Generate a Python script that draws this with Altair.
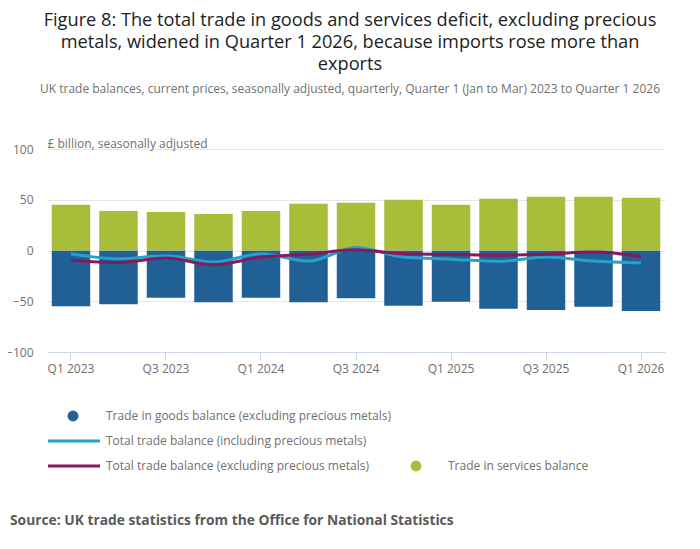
import altair as alt
import pandas as pd

quarters = ["Q1 2023", "Q2 2023", "Q3 2023", "Q4 2023", "Q1 2024", "Q2 2024", "Q3 2024",
            "Q4 2024", "Q1 2025", "Q2 2025", "Q3 2025", "Q4 2025", "Q1 2026"]
goods = [-55.0, -53.0, -46.6, -51.0, -46.6, -51.0, -47.0, -54.5, -50.5, -57.5, -58.5, -55.5, -59.5]
services = [45.0, 39.0, 38.0, 36.0, 39.0, 46.0, 47.0, 50.0, 45.0, 51.0, 53.0, 53.0, 52.0]
total_incl = [-3.3, -8.2, -5.2, -11.4, -3.3, -10.4, 3.0, -6.5, -8.5, -10.8, -6.5, -10.4, -12.4]
total_excl = [-9.5, -11.8, -7.5, -14.1, -6.5, -3.6, 0.7, -3.3, -3.9, -4.6, -3.6, -1.6, -5.9]
tick_quarters = ["Q1 2023", "Q3 2023", "Q1 2024", "Q3 2024", "Q1 2025", "Q3 2025", "Q1 2026"]
y_ticks = [-100, -50, 0, 50, 100]

GOODS_C = "#206095"
SERV_C = "#a8bd3a"
INCL_C = "#27a0cc"
EXCL_C = "#871a5b"
TEXT_C = "#707070"
FONT = "Open Sans"

df = pd.DataFrame({
    "quarter": quarters,
    "goods": goods,
    "services": services,
    "incl": total_incl,
    "excl": total_excl,
})

x_enc = alt.X(
    "quarter:N",
    sort=quarters,
    scale=alt.Scale(paddingInner=0.19, paddingOuter=0.1),
    axis=alt.Axis(
        title=None, values=tick_quarters, labelAngle=0, labelColor=TEXT_C,
        labelFontSize=12, labelFont=FONT, tickColor="#ccd6eb", domainColor="#ccd6eb",
        tickSize=8, labelPadding=3, grid=False,
    ),
)
y_scale = alt.Scale(domain=[-100, 100], nice=False)
y_axis = alt.Axis(
    values=y_ticks, title="£ billion, seasonally adjusted", titleAngle=0,
    titleAlign="left", titleBaseline="bottom", titleX=0, titleY=1,
    titleColor=TEXT_C, titleFontSize=12, titleFont=FONT, titleFontWeight="normal",
    labelColor=TEXT_C, labelFontSize=12, labelFont=FONT, labelPadding=14,
    domain=False, ticks=False, grid=True, gridColor="#e6e6e6",
)

base = alt.Chart(df)

goods_bars = base.mark_bar(color=GOODS_C).encode(
    x=x_enc,
    y=alt.Y("goods:Q", scale=y_scale, axis=y_axis, stack=None),
)
serv_bars = base.mark_bar(color=SERV_C).encode(
    x=x_enc,
    y=alt.Y("services:Q", scale=y_scale, stack=None),
)
incl_line = base.mark_line(color=INCL_C, strokeWidth=3, interpolate="monotone").encode(
    x=x_enc,
    y=alt.Y("incl:Q", scale=y_scale),
)
excl_line = base.mark_line(color=EXCL_C, strokeWidth=3, interpolate="monotone").encode(
    x=x_enc,
    y=alt.Y("excl:Q", scale=y_scale),
)


def one(label):
    return alt.Data(values=[{"label": label}])


def legend_text(label, x, y):
    return alt.Chart(one(label)).mark_text(
        align="left", baseline="middle", fontSize=12, font=FONT, color=TEXT_C
    ).encode(text="label:N", x=alt.value(x), y=alt.value(y))


leg_goods_sym = alt.Chart(one("g")).mark_circle(color=GOODS_C, size=120, opacity=1).encode(
    x=alt.value(26), y=alt.value(267))
leg_incl_sym = alt.Chart(one("i")).mark_rule(color=INCL_C, strokeWidth=3).encode(
    x=alt.value(1), x2=alt.value(53), y=alt.value(292))
leg_excl_sym = alt.Chart(one("e")).mark_rule(color=EXCL_C, strokeWidth=3).encode(
    x=alt.value(1), x2=alt.value(53), y=alt.value(317))
leg_serv_sym = alt.Chart(one("s")).mark_circle(color=SERV_C, size=120, opacity=1).encode(
    x=alt.value(369), y=alt.value(317))

source = alt.Chart(one("Source: UK trade statistics from the Office for National Statistics")).mark_text(
    align="left", baseline="middle", fontSize=13.8, font=FONT, fontWeight="bold", color="#5a5a5a"
).encode(text="label:N", x=alt.value(-37), y=alt.value(372))

chart = alt.layer(
    goods_bars, serv_bars, incl_line, excl_line,
    leg_goods_sym, legend_text("Trade in goods balance (excluding precious metals)", 59, 267),
    leg_incl_sym, legend_text("Total trade balance (including precious metals)", 59, 292),
    leg_excl_sym, legend_text("Total trade balance (excluding precious metals)", 59, 317),
    leg_serv_sym, legend_text("Trade in services balance", 401, 317),
    source,
).properties(
    width=618,
    height=203,
    autosize=alt.AutoSizeParams(type="none"),
    padding={"left": 39, "top": 141, "right": 20, "bottom": 185},
    title=alt.TitleParams(
        text=[
            "Figure 8: The total trade in goods and services deficit, excluding precious",
            "metals, widened in Quarter 1 2026, because imports rose more than",
            "exports",
        ],
        subtitle="UK trade balances, current prices, seasonally adjusted, quarterly, Quarter 1 (Jan to Mar) 2023 to Quarter 1 2026",
        anchor="middle",
        dx=-6,
        font=FONT,
        fontSize=18.2,
        fontWeight="normal",
        color="#222222",
        lineHeight=22,
        subtitleFont=FONT,
        subtitleFontSize=12,
        subtitleColor=TEXT_C,
        subtitlePadding=10,
        offset=41,
    ),
).configure_view(stroke=None)

chart.save("out.html", embed_options={"renderer": "svg", "actions": False})
